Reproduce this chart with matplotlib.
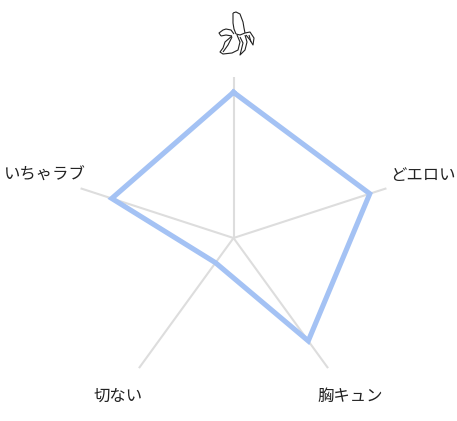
import matplotlib
matplotlib.use('Agg')
import matplotlib.pyplot as plt
import numpy as np
from matplotlib.patches import PathPatch
from matplotlib.path import Path

plt.rcParams['font.family'] = ['Noto Sans CJK JP', 'DejaVu Sans']

# Clockwise from the top; the top axis has the banana icon instead of a label
categories = ['', 'どエロい', '胸キュン', '切ない', 'いちゃラブ']
values = [0.905, 0.89, 0.79, 0.19, 0.795]

W, H = 457, 421
CX, CY, R = 233.5, 238, 161

# Banana outline strokes, in pixels of the figure (y down)
banana = [
    # upright fruit
    [(233, 13), (236, 12), (240, 14), (243, 22), (244, 28), (245, 33)],
    [(233, 13), (233, 23), (234, 29), (236, 34)],
    [(236, 34), (240, 35), (245, 33)],
    # left peel
    [(234, 34), (231, 30), (226, 29), (223, 30), (219, 33), (221, 36)],
    [(221, 36), (226, 35), (232, 36)],
    # front peel
    [(232, 36), (225, 42), (223, 48), (220, 52), (223, 54), (232, 53), (238, 50), (240, 42), (237, 35)],
    [(232, 37), (228, 45), (223, 52)],
    # right peels
    [(240, 37), (243, 43), (240, 55), (245, 50), (247, 42), (245, 35)],
    [(245, 33), (250, 32), (254, 38), (253, 45), (250, 40), (246, 35)],
    [(249, 35), (251, 42)],
]


def main():
    fig = plt.figure(figsize=(W / 100, H / 100), dpi=100)
    ax = fig.add_axes([(CX - R) / W, 1 - (CY + R) / H, 2 * R / W, 2 * R / H],
                      projection='polar')
    ax.set_theta_zero_location('N')
    ax.set_theta_direction(-1)
    ax.set_ylim(0, 1)
    ax.axis('off')

    angles = np.arange(len(values)) * 2 * np.pi / len(values)
    for a in angles:
        ax.plot([a, a], [0, 1], color='#dddddd', lw=1.5, solid_capstyle='butt', zorder=1)

    ax.plot(np.append(angles, angles[0]), values + values[:1], color='#a4c2f4',
            lw=3.7, solid_joinstyle='miter', zorder=2)

    fig.text(423 / W, 1 - 175 / H, categories[1], ha='center', va='center', fontsize=11.8, color='#222222')
    fig.text(350 / W, 1 - 396 / H, categories[2], ha='center', va='center', fontsize=11.8, color='#222222')
    fig.text(118 / W, 1 - 396 / H, categories[3], ha='center', va='center', fontsize=11.8, color='#222222')
    fig.text(45 / W, 1 - 175 / H, categories[4], ha='center', va='center', fontsize=11.8, color='#222222')

    # Icon over the top axis
    for stroke in banana:
        verts = [(x / W, 1 - y / H) for x, y in stroke]
        codes = [Path.MOVETO] + [Path.LINETO] * (len(verts) - 1)
        fig.add_artist(PathPatch(Path(verts, codes), fill=False, ec='#222222', lw=0.8,
                                 joinstyle='round', transform=fig.transFigure))

    fig.savefig('out.png', dpi=100)


if __name__ == "__main__":
    main()
